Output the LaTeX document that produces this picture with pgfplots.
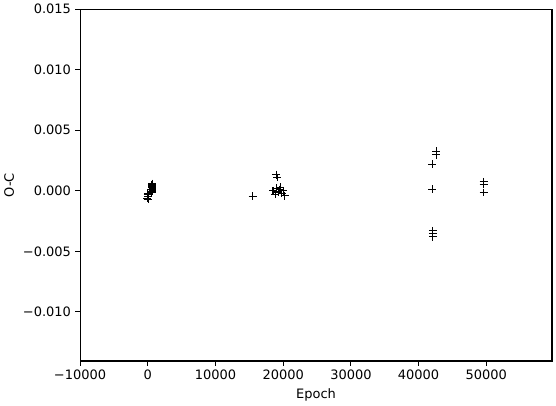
\documentclass[border=0pt]{standalone}
\usepackage{pgfplots}
\pgfplotsset{compat=1.18}
\usepackage{fontspec}
\setmainfont{DejaVu Sans}
\begin{document}
\fontsize{13}{15}\selectfont
\begin{tikzpicture}
\begin{axis}[
  scale only axis,
  width=473.3pt, height=352.8pt,
  xmin=-10000, xmax=59700,
  ymin=-0.01406, ymax=0.015,
  axis line style={line width=1.06pt},
  tick style={line width=1.06pt, black},
  tick align=outside,
  major tick length=4.6pt,
  xtick pos=bottom, ytick pos=left,
  xtick={-10000,0,10000,20000,30000,40000,50000},
  xticklabels={−10000,0,10000,20000,30000,40000,50000},
  ytick={-0.010,-0.005,0,0.005,0.010,0.015},
  yticklabels={−0.010,−0.005,0.000,0.005,0.010,0.015},
  scaled ticks=false,
  /pgf/number format/assume math mode=true,
  xlabel={Epoch}, ylabel={O-C},
  xlabel style={font=\fontsize{13}{15}\selectfont},
  ylabel style={font=\fontsize{13}{15}\selectfont},
  ticklabel style={font=\fontsize{13}{15}\selectfont},
]
\addplot[only marks, mark=+, mark size=4pt, mark options={line width=1.1pt, black}] coordinates {
(0,-0.0003) (50,-0.0005) (100,-0.0007) (-50,-0.0006) (0,-0.0002)
(600,0.0001) (650,0.0003) (600,0.0005) (700,0.0002) (650,0.0004) (700,0.0000) (600,-0.0001) (650,0.0006)
(15500,-0.00045)
(19000,0.00134) (19100,0.0011)
(18500,0.0000) (19000,0.0002) (19300,-0.0001) (19500,0.0001) (19800,-0.0002) (20000,0.0000) (20200,-0.0004) (18800,-0.0003) (19600,0.0003)
(42600,0.00326) (42600,0.00299) (42000,0.0022) (42000,0.00014)
(42100,-0.0033) (42100,-0.0035) (42100,-0.0038)
(49600,0.00074) (49600,0.00055) (49600,-0.00014)
};
\end{axis}
\path[use as bounding box] ([xshift=-78.7pt,yshift=-44.5pt]current axis.south west) rectangle ([xshift=4pt,yshift=6.7pt]current axis.north east);
\end{tikzpicture}
\end{document}
